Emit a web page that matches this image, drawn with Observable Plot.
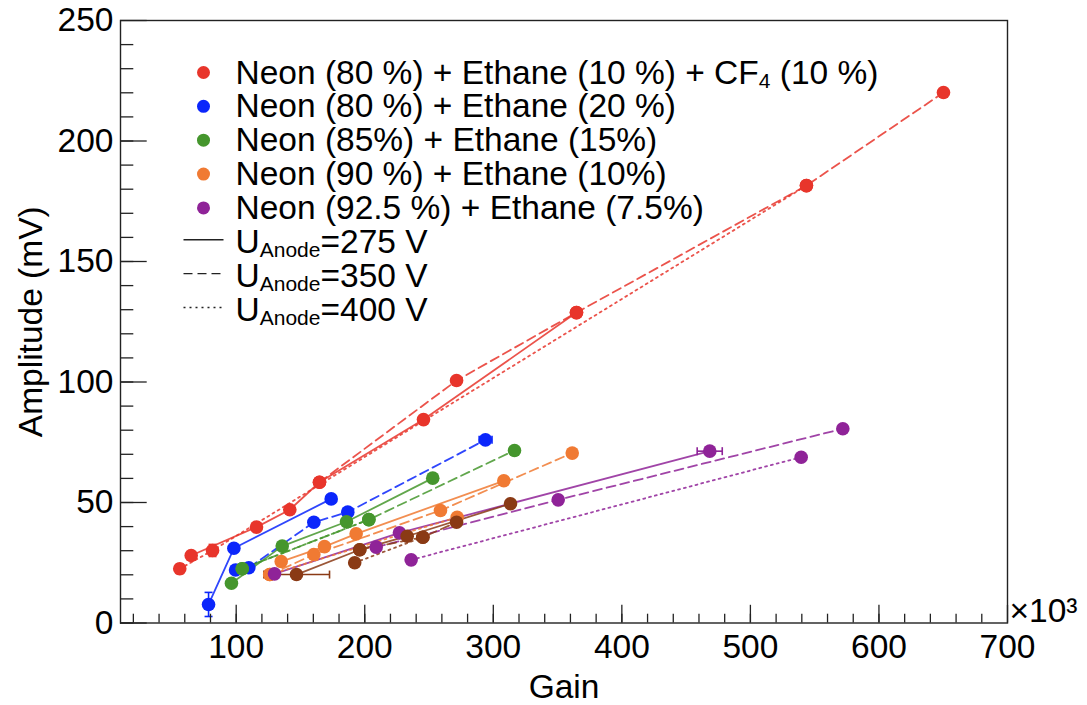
<!DOCTYPE html>
<html><head><meta charset="utf-8">
<script src="https://cdn.jsdelivr.net/npm/d3@7"></script>
<script src="https://cdn.jsdelivr.net/npm/@observablehq/plot@0.6"></script>
<style>
body{margin:0;background:#fff}
svg{font-family:"Liberation Sans",Arial,Helvetica,sans-serif}
</style>
</head><body><div id="chart"></div>
<script>
// ---- gas mixtures (legend) ----
const gasKeys = ["ne80e10cf10", "ne80e20", "ne85e15", "ne90e10", "ne925e75", "extra"];
const gasLabels = [
  "Neon (80 %) + Ethane (10 %) + CF_{4} (10 %)",
  "Neon (80 %) + Ethane (20 %)",
  "Neon (85%) + Ethane (15%)",
  "Neon (90 %) + Ethane (10%)",
  "Neon (92.5 %) + Ethane (7.5%)"
];
const gasColors = ["#e8352b", "#0b26fb", "#45962d", "#f07a33", "#8f2398", "#8a3a15"];
const voltLabels = ["U_{Anode}=275 V", "U_{Anode}=350 V", "U_{Anode}=400 V"];
const voltKeys = ["275", "350", "400"];
const voltDash = ["none", "9,5", "2,4"];

// ---- measured points [gain (x10^3), amplitude (mV)] ----
const red275 = [[65.0, 28.0], [115.8, 39.8], [141.7, 47.0], [164.8, 58.4], [245.7, 84.4], [364.7, 128.8]];
const red350 = [[164.8, 58.4], [271.4, 100.6], [364.7, 128.8], [543.6, 181.5], [650.2, 220.1]];
const red400 = [[56.1, 22.5], [81.6, 30.1], [543.6, 181.5]];
const blue275 = [[78.5, 7.7], [98.2, 31.0], [173.9, 51.5]];
const blue350 = [[99.5, 22.0], [109.8, 22.9], [160.4, 41.8], [186.8, 46.0], [293.9, 76.0]];
const blue400 = [];
const green275 = [[96.3, 16.5], [135.8, 31.9], [185.8, 42.0], [252.9, 60.1]];
const green350 = [[104.7, 22.5], [203.2, 42.9], [316.5, 71.6]];
const green400 = [[104.7, 22.5], [203.2, 42.9]];
const orange275 = [[135.0, 25.5], [168.7, 31.7], [193.3, 37.0], [308.2, 59.0]];
const orange350 = [[126.1, 20.1], [160.4, 28.4], [258.9, 46.7], [361.4, 70.5]];
const orange400 = [[126.1, 20.1], [271.9, 43.9]];
const purple275 = [[129.8, 20.4], [227.0, 37.4], [468.4, 71.3]];
const purple350 = [[208.9, 31.5], [350.5, 51.1], [571.9, 80.6]];
const purple400 = [[236.1, 26.2], [539.5, 68.8]];
const brown275 = [[146.9, 20.1], [196.1, 30.4], [233.0, 36.0], [313.4, 49.5]];
const brown350 = [[196.1, 30.4], [245.2, 35.6], [271.4, 41.8]];
const brown400 = [[192.2, 25.0], [245.2, 35.6]];

// error bars: [gain, amp, gainLow, gainHigh, ampLow, ampHigh]
const errBars = [
  [78.5, 7.7, 78.5, 78.5, 2.7, 12.7],
  [146.9, 20.1, 121.5, 172.6, 20.1, 20.1],
  [468.4, 71.3, 458.6, 478.1, 71.3, 71.3],
  [293.9, 76.0, 289.0, 299.0, 76.0, 76.0],
  [81.6, 30.1, 81.6, 81.6, 27.6, 32.6],
  [56.1, 22.5, 56.1, 56.1, 20.5, 24.5]
];

// axis ticks
const xMajor = [100, 200, 300, 400, 500, 600, 700];
const xMinor = d3.range(20, 700, 20);
const yMajor = [0, 50, 100, 150, 200, 250];
const yMinor = d3.range(0, 250, 10);

// ---- build table ----
const seriesTable = [
  ["ne80e10cf10", red275, red350, red400],
  ["ne80e20", blue275, blue350, blue400],
  ["ne85e15", green275, green350, green400],
  ["ne90e10", orange275, orange350, orange400],
  ["ne925e75", purple275, purple350, purple400],
  ["extra", brown275, brown350, brown400]
];
const rows = [];
for (const [gas, ...byVolt] of seriesTable) {
  byVolt.forEach((pts, vi) => {
    for (const [g, a] of pts) rows.push({gas, volt: voltKeys[vi], series: gas + voltKeys[vi], gain: g, amp: a});
  });
}
const errRows = errBars.map(([g, a, gl, gh, al, ah]) => ({g, a, gl, gh, al, ah}));
errRows.forEach(e => {
  let best = null, bd = Infinity;
  for (const r of rows) { const d = Math.abs(r.gain - e.g) + Math.abs(r.amp - e.a); if (d < bd) { bd = d; best = r; } }
  e.gas = best.gas;
});

const W = 1087, H = 705;
const mL = 120, mR = 80, mT = 20, mB = 82.5;
const fw = W - mL - mR, fh = H - mT - mB;
const FS = 33.5;

const capV = {draw(ctx) { ctx.moveTo(0, -4); ctx.lineTo(0, 4); }};
const capH = {draw(ctx) { ctx.moveTo(-4, 0); ctx.lineTo(4, 0); }};
const legLine = {draw(ctx) { ctx.moveTo(-20, 0); ctx.lineTo(20, 0); }};

const marks = [];
voltKeys.forEach((v, vi) => {
  marks.push(Plot.line(rows.filter(r => r.volt === v), {
    x: "gain", y: "amp", z: "series", stroke: "gas", strokeWidth: 1.8,
    strokeDasharray: voltDash[vi], strokeOpacity: 0.85
  }));
});
marks.push(Plot.link(errRows, {x1: "gl", x2: "gh", y1: "a", y2: "a", stroke: "gas", strokeWidth: 1.6}));
marks.push(Plot.link(errRows, {x1: "g", x2: "g", y1: "al", y2: "ah", stroke: "gas", strokeWidth: 1.6}));
marks.push(Plot.dot(errRows.filter(e => e.gl !== e.gh), {x: "gl", y: "a", symbol: capV, stroke: "gas", strokeWidth: 1.6}));
marks.push(Plot.dot(errRows.filter(e => e.gl !== e.gh), {x: "gh", y: "a", symbol: capV, stroke: "gas", strokeWidth: 1.6}));
marks.push(Plot.dot(errRows.filter(e => e.al !== e.ah), {x: "g", y: "al", symbol: capH, stroke: "gas", strokeWidth: 1.6}));
marks.push(Plot.dot(errRows.filter(e => e.al !== e.ah), {x: "g", y: "ah", symbol: capH, stroke: "gas", strokeWidth: 1.6}));
marks.push(Plot.dot(rows, {x: "gain", y: "amp", fill: "gas", r: 6.8}));

marks.push(Plot.frame({stroke: "#222", strokeWidth: 1.4}));
marks.push(Plot.ruleX(xMajor, {x: d => d, insetTop: fh - 17.7, stroke: "#222", strokeWidth: 1.3}));
marks.push(Plot.ruleX(xMinor, {x: d => d, insetTop: fh - 8.8, stroke: "#222", strokeWidth: 1.3}));
marks.push(Plot.ruleY(yMajor, {y: d => d, insetRight: fw - 26.7, stroke: "#222", strokeWidth: 1.3}));
marks.push(Plot.ruleY(yMinor, {y: d => d, insetRight: fw - 13.3, stroke: "#222", strokeWidth: 1.3}));
marks.push(Plot.axisX(xMajor, {tickSize: 0, tickPadding: 11, fontSize: FS, fill: "#000"}));
marks.push(Plot.axisY(yMajor, {tickSize: 0, tickPadding: 7, fontSize: FS, fill: "#000"}));
marks.push(Plot.text(["Gain"], {frameAnchor: "bottom", dy: 74.5, textAnchor: "middle", lineAnchor: "bottom", fontSize: FS, fill: "#000"}));
marks.push(Plot.text(["×10³"], {frameAnchor: "bottom-right", dx: 2, dy: -1, textAnchor: "start", lineAnchor: "bottom", fontSize: FS, fill: "#000"}));
marks.push(Plot.text(["Amplitude (mV)"], {frameAnchor: "left", dx: 41 - mL, rotate: -90, textAnchor: "middle", lineAnchor: "bottom", fontSize: FS, fill: "#000"}));

const legStep = 33.86, legBase0 = 83;
gasLabels.forEach((lab, i) => {
  const base = legBase0 + i * legStep;
  marks.push(Plot.dot([0], {frameAnchor: "top-left", dx: 203 - mL, dy: base - 11 - mT, r: 6.5, fill: gasColors[i]}));
  marks.push(Plot.text([lab], {frameAnchor: "top-left", dx: 235 - mL, dy: base - mT, textAnchor: "start", lineAnchor: "bottom", fontSize: FS, fill: "#000", className: "lg"}));
});
voltLabels.forEach((lab, i) => {
  const base = legBase0 + (gasLabels.length + i) * legStep;
  marks.push(Plot.dot([0], {frameAnchor: "top-left", dx: 203 - mL, dy: base - 13 - mT, symbol: legLine, stroke: "#222", strokeWidth: 1.4, strokeDasharray: voltDash[i]}));
  marks.push(Plot.text([lab], {frameAnchor: "top-left", dx: 235 - mL, dy: base - mT, textAnchor: "start", lineAnchor: "bottom", fontSize: FS, fill: "#000", className: "lg"}));
});

const chart = Plot.plot({
  width: W, height: H,
  marginLeft: mL, marginRight: mR, marginTop: mT, marginBottom: mB,
  x: {domain: [10, 700], axis: null},
  y: {domain: [0, 250], axis: null},
  color: {domain: gasKeys, range: gasColors},
  style: {fontFamily: '"Liberation Sans", Arial, Helvetica, sans-serif', background: "#fff"},
  marks
});
chart.querySelectorAll(".lg text").forEach(t => {
  const s = t.textContent;
  if (!s.includes("_{")) return;
  const parts = s.split(/_\{([^}]*)\}/);
  t.textContent = "";
  const ns = "http://www.w3.org/2000/svg";
  parts.forEach((p, i) => {
    if (!p) return;
    const ts = document.createElementNS(ns, "tspan");
    ts.textContent = p;
    if (i % 2 === 1) { ts.setAttribute("font-size", 21); ts.setAttribute("dy", 4); }
    else if (i > 0) { ts.setAttribute("dy", -4); }
    t.appendChild(ts);
  });
});
document.getElementById("chart").appendChild(chart);
</script>
</body></html>
